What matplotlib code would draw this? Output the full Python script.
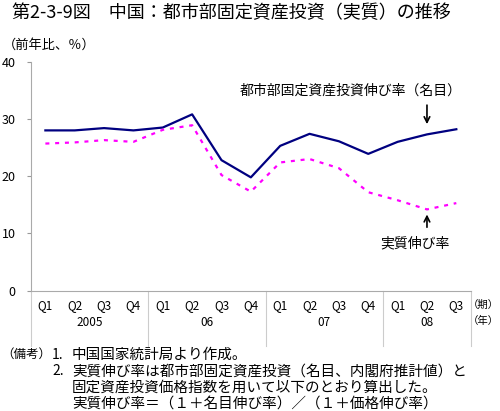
import matplotlib.pyplot as plt
import matplotlib.transforms as mtransforms

plt.rcParams['font.family'] = ['Noto Sans CJK JP', 'DejaVu Sans']

# -----------------------------------------
# Data
# -----------------------------------------

QUARTERS = ["Q1", "Q2", "Q3", "Q4", "Q1", "Q2", "Q3", "Q4",
            "Q1", "Q2", "Q3", "Q4", "Q1", "Q2", "Q3"]
YEARS = ["2005", "06", "07", "08"]
YEAR_QTRS = [4, 4, 4, 3]

nominal = [28.0, 28.0, 28.4, 28.0, 28.5, 30.8, 22.8, 19.8,
           25.3, 27.4, 26.1, 23.9, 26.0, 27.3, 28.2]
real = [25.7, 25.9, 26.3, 26.0, 28.1, 28.9, 20.2, 17.3,
        22.4, 23.0, 21.4, 17.2, 15.8, 14.2, 15.3]

NOTE_NUMS = ["1.", "2.", "", ""]
NOTES = [
    "中国国家統計局より作成。",
    "実質伸び率は都市部固定資産投資（名目、内閣府推計値）と",
    "固定資産投資価格指数を用いて以下のとおり算出した。",
    "実質伸び率＝（１＋名目伸び率）／（１＋価格伸び率）",
]

# -----------------------------------------
# Plot
# -----------------------------------------

fig = plt.figure(figsize=(5.0, 4.11), dpi=100)
ax = fig.add_axes([0.0614, 0.2927, 0.8806, 0.5572])

x = list(range(len(QUARTERS)))
ax.plot(x, nominal, color="#000080", lw=1.6)
ax.plot(x, real, color="#FF00FF", lw=1.6, linestyle=(0, (1.8, 2.6)))

ax.set_xlim(-0.5, len(QUARTERS) - 0.5)
ax.set_ylim(0, 40)
ax.set_yticks([0, 10, 20, 30, 40])
ax.tick_params(axis="y", labelsize=9, length=3, color="#999999", pad=8)
ax.set_xticks(x)
ax.set_xticklabels(QUARTERS, fontsize=8.5)
ax.tick_params(axis="x", length=0, pad=6)

for s in ["top", "right"]:
    ax.spines[s].set_visible(False)
ax.spines["left"].set_color("#aaaaaa")
ax.spines["bottom"].set_color("#aaaaaa")

# year grouping below the axis
trans = mtransforms.blended_transform_factory(ax.transData, ax.transAxes)
bounds = [-0.5]
for n in YEAR_QTRS:
    bounds.append(bounds[-1] + n)
for b in bounds:
    ax.plot([b, b], [0, -0.24], color="#cccccc", lw=0.8,
            transform=trans, clip_on=False)
for yr, a, b in zip(YEARS, bounds[:-1], bounds[1:]):
    ax.text((a + b) / 2, -0.14, yr, transform=trans, ha="center",
            va="center", fontsize=8.5)

# unit labels at the right edge
fig.text(0.998, 0.257, "（期）", ha="right", va="center", fontsize=7.5)
fig.text(0.998, 0.218, "（年）", ha="right", va="center", fontsize=7.5)

# annotations
ax.annotate("", xy=(13, 28.6), xytext=(13, 32.9),
            arrowprops=dict(arrowstyle="->", color="black", lw=1.2))
ax.text(10.4, 34.9, "都市部固定資産投資伸び率（名目）", ha="center",
        va="center", fontsize=10)
ax.annotate("", xy=(13, 13.8), xytext=(13, 10.6),
            arrowprops=dict(arrowstyle="->", color="black", lw=1.2))
ax.text(12.6, 8.3, "実質伸び率", ha="center", va="center", fontsize=10)

fig.text(0.025, 0.968, "第2-3-9図　中国：都市部固定資産投資（実質）の推移",
         fontsize=13, va="center")
fig.text(0.005, 0.89, "（前年比、％）", fontsize=9.5, va="center")

fig.text(0.002, 0.137, "（備考）", fontsize=9, va="center")
for i, (num, line) in enumerate(zip(NOTE_NUMS, NOTES)):
    yy = 0.137 - i * 0.040
    fig.text(0.104, yy, num, fontsize=10, va="center")
    fig.text(0.144, yy, line, fontsize=10.5, va="center")

fig.savefig("out.png", dpi=100)
